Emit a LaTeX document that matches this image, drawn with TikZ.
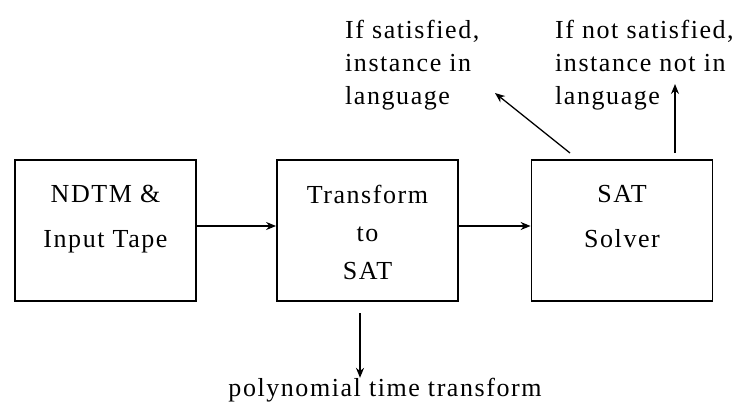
\documentclass[tikz,border=0pt]{standalone}
\usepackage{fontspec}
\setmainfont{Liberation Serif}[LetterSpace=6]
\usetikzlibrary{arrows.meta}
\begin{document}
\begin{tikzpicture}[x=1pt,y=-1pt,
  blk/.style={draw=black, line width=1.8pt, minimum width=181pt, minimum height=141pt, inner sep=0pt},
  txt/.style={font=\fontsize{26}{45}\selectfont, align=center, inner sep=0pt, anchor=north},
  lbl/.style={font=\fontsize{26}{33}\selectfont, align=left, inner sep=0pt, anchor=north west},
  arr/.style={line width=1.3pt, -{Stealth[length=10pt,width=8pt]}}]
\useasboundingbox (0,0) rectangle (733,404);
\node[blk] (b1) at (105.5,230.5) {};
\node[blk] (b2) at (367.5,230.5) {};
\node[blk] (b3) at (622,230.5) {};
\node[txt] (t1) at ([yshift=-26pt]b1.north) {NDTM \&\\Input Tape};
\node[txt, font=\fontsize{26}{38}\selectfont] (t2) at ([yshift=-26pt]b2.north) {Transform\\to\\SAT};
\node[txt] (t3) at ([yshift=-26pt]b3.north) {SAT\\Solver};
\node[lbl] (l1) at (345,20) {If satisfied,\\instance in\\language};
\node[lbl] (l2) at (555,20) {If not satisfied,\\instance not in\\language};
\node[font=\fontsize{26}{38}\selectfont, inner sep=0pt] (p) at (385,390) {polynomial time transform};
\coordinate (d0) at (360,313);
\coordinate (s1) at (570,153);
\coordinate (s2) at (675,153);
\coordinate (e1) at (495,93);
\coordinate (e2) at (675,84);
\draw[arr] (b1.east |- 0,226) -- (b2.west |- 0,226);
\draw[arr] (b2.east |- 0,226) -- (b3.west |- 0,226);
\draw[arr] (d0) -- (d0 |- p.north);
\draw[arr] (s1) -- (e1);
\draw[arr] (s2) -- (e2);
\end{tikzpicture}
\end{document}
